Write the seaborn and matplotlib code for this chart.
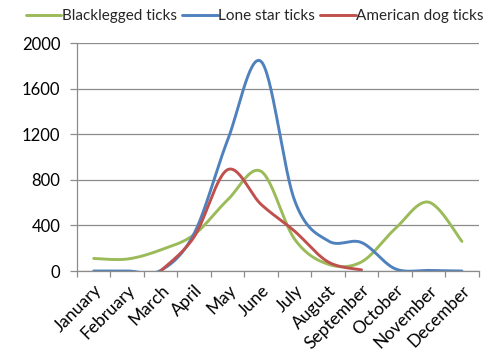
import numpy as np
import pandas as pd
import matplotlib
matplotlib.use("Agg")
import matplotlib.pyplot as plt
import seaborn as sns

months = ["January", "February", "March", "April", "May", "June", "July",
          "August", "September", "October", "November", "December"]
blacklegged = [110, 105, 185, 320, 625, 875, 280, 60, 80, 370, 605, 260]
lone_star = [0, 0, 5, 330, 1150, 1840, 620, 265, 250, 20, 5, 0]
american_dog = [np.nan, np.nan, 0, 300, 890, 585, 350, 80, 10, np.nan, np.nan, np.nan]
series_names = ["Blacklegged ticks", "Lone star ticks", "American dog ticks"]
yticks = [0, 400, 800, 1200, 1600, 2000]

colors = ["#9BBB59", "#4F81BD", "#C0504D"]

sns.set_theme(style="white")
plt.rcParams["font.family"] = ["Lato", "DejaVu Sans"]


def smooth(xs, ys, n=30):
    """Excel-like smoothing (Catmull-Rom as cubic Bezier) for display only."""
    xs = np.asarray(xs, float)
    ys = np.asarray(ys, float)
    m = ~np.isnan(ys)
    xs, ys = xs[m], ys[m]
    px, py = [], []
    k = len(xs)
    for i in range(k - 1):
        x0, y0 = (xs[i - 1], ys[i - 1]) if i > 0 else (xs[i], ys[i])
        x1, y1 = xs[i], ys[i]
        x2, y2 = xs[i + 1], ys[i + 1]
        x3, y3 = (xs[i + 2], ys[i + 2]) if i + 2 < k else (xs[i + 1], ys[i + 1])
        c1x, c1y = x1 + (x2 - x0) / 6, y1 + (y2 - y0) / 6
        c2x, c2y = x2 - (x3 - x1) / 6, y2 - (y3 - y1) / 6
        t = np.linspace(0, 1, n, endpoint=(i == k - 2))
        a = (1 - t) ** 3
        b = 3 * (1 - t) ** 2 * t
        c = 3 * (1 - t) * t ** 2
        d = t ** 3
        px.extend(a * x1 + b * c1x + c * c2x + d * x2)
        py.extend(a * y1 + b * c1y + c * c2y + d * y2)
    return np.array(px), np.array(py)


fig = plt.figure(figsize=(5.02, 3.53), dpi=100)
ax = fig.add_axes([77 / 502, 1 - 271 / 353, (478.7 - 77) / 502, (271 - 43.3) / 353])

xpos = np.arange(len(months))
frames = []
for name, vals in zip(series_names, [blacklegged, lone_star, american_dog]):
    sx, sy = smooth(xpos, vals)
    frames.append(pd.DataFrame({"x": sx, "y": sy, "series": name}))
df = pd.concat(frames, ignore_index=True)

sns.lineplot(data=df, x="x", y="y", hue="series", palette=colors,
             hue_order=series_names, sort=False, estimator=None,
             linewidth=2.1, ax=ax, legend=True)

ax.set_xlim(-0.5, 11.5)
ax.set_ylim(0, 2000)
ax.set_yticks(yticks)
ax.set_yticklabels([str(v) for v in yticks])
ax.set_xticks(xpos)
ax.set_xticklabels(months, rotation=45, ha="right", rotation_mode="anchor")
ax.set_xticks(np.arange(-0.5, 12, 1), minor=True)
ax.set_xlabel("")
ax.set_ylabel("")

gridc = "#8C8C8C"
ax.yaxis.grid(True, color=gridc, linewidth=0.9)
ax.xaxis.grid(False)
ax.set_axisbelow(True)
for s in ["top", "right"]:
    ax.spines[s].set_visible(False)
for s in ["left", "bottom"]:
    ax.spines[s].set_color(gridc)
    ax.spines[s].set_linewidth(0.9)

ax.tick_params(axis="x", which="major", length=0, pad=8, labelsize=12.5, colors="black")
ax.tick_params(axis="x", which="minor", length=4, width=0.9, color=gridc, bottom=True)
ax.tick_params(axis="y", which="major", length=5, width=0.9, color=gridc, left=True,
               labelsize=12, pad=7, labelcolor="black")

leg = ax.legend(loc="upper center", bbox_to_anchor=(255 / 502, 1 - 3 / 353),
                bbox_transform=fig.transFigure, ncol=3, frameon=False,
                fontsize=11, handlelength=2.3, handletextpad=0.05,
                columnspacing=0.35, borderaxespad=0)
for line in leg.get_lines():
    line.set_linewidth(2.1)

fig.savefig("out.png", dpi=100)
